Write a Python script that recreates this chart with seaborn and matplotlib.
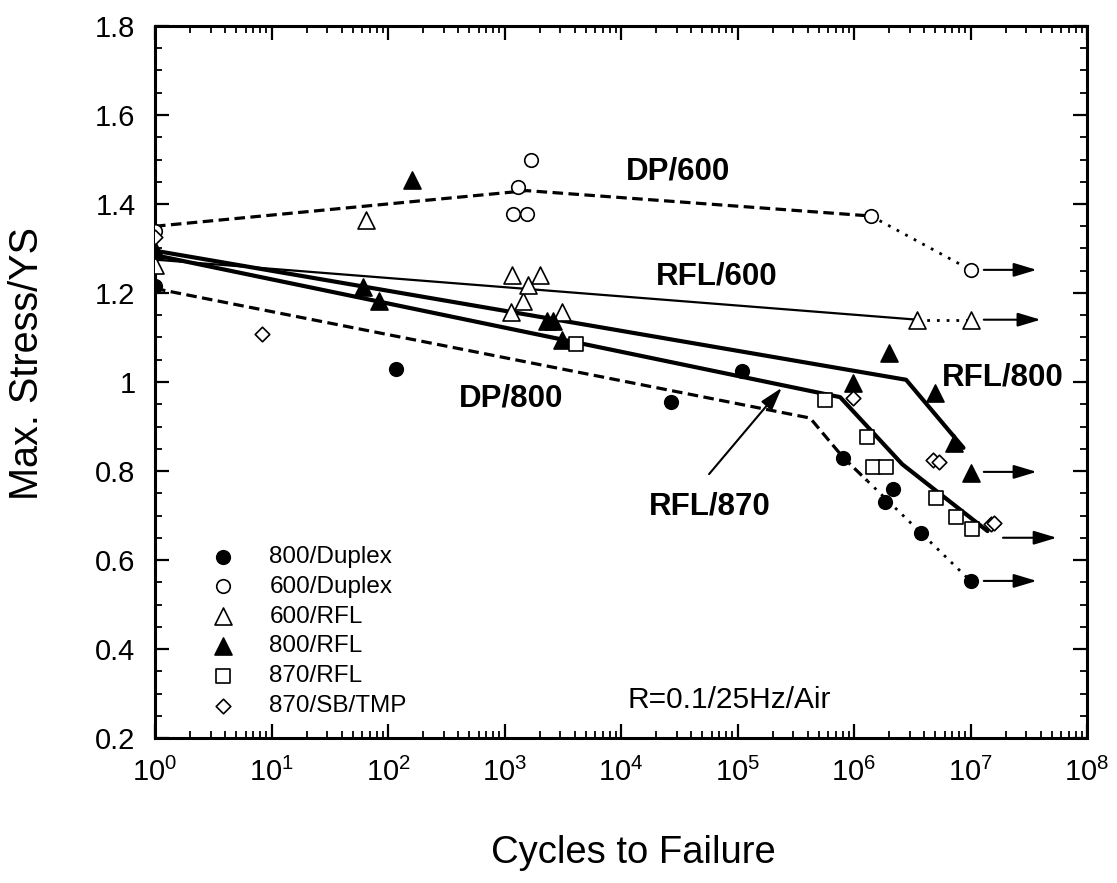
import matplotlib
matplotlib.use("Agg")
import matplotlib.pyplot as plt
import seaborn as sns
from matplotlib.ticker import LogLocator, MultipleLocator, FuncFormatter, NullFormatter

# ---------------- data ----------------
duplex800_n = [1, 117, 2.7e4, 1.1e5, 8.1e5, 1.85e6, 2.16e6, 3.76e6, 1.0e7]
duplex800_s = [1.215, 1.03, 0.955, 1.025, 0.83, 0.73, 0.76, 0.661, 0.553]
duplex600_n = [1, 1183, 1306, 1560, 1690, 1.4e6, 1.0e7]
duplex600_s = [1.34, 1.378, 1.438, 1.378, 1.50, 1.373, 1.252]
rfl600_n = [1, 65, 1140, 1150, 1440, 1600, 2000, 3100, 3.5e6, 1.0e7]
rfl600_s = [1.262, 1.364, 1.157, 1.24, 1.182, 1.218, 1.24, 1.157, 1.14, 1.14]
rfl800_n = [1, 61, 84, 161, 2300, 2600, 3100, 9.8e5, 2.0e6, 5.0e6, 7.2e6, 1.0e7]
rfl800_s = [1.297, 1.213, 1.182, 1.455, 1.137, 1.137, 1.094, 0.998, 1.065, 0.975, 0.863, 0.796]
rfl870_n = [4100, 5.6e5, 1.3e6, 1.45e6, 1.9e6, 5.1e6, 7.5e6, 1.03e7]
rfl870_s = [1.085, 0.96, 0.876, 0.809, 0.809, 0.739, 0.697, 0.67]
sbtmp870_n = [1, 8.3, 9.8e5, 4.8e6, 5.4e6, 1.5e7, 1.6e7]
sbtmp870_s = [1.325, 1.108, 0.964, 0.825, 0.82, 0.681, 0.683]

series_labels = ["800/Duplex", "600/Duplex", "600/RFL", "800/RFL", "870/RFL", "870/SB/TMP"]

# trend lines
dp600_dash_n = [1, 1560, 1.4e6]
dp600_dash_s = [1.35, 1.43, 1.373]
dp600_dot_n = [1.4e6, 1.0e7]
dp600_dot_s = [1.373, 1.252]
rfl600_line_n = [1, 3.5e6]
rfl600_line_s = [1.275, 1.14]
rfl600_dot_n = [3.5e6, 1.0e7]
rfl600_dot_s = [1.14, 1.14]
rfl800_line_n = [1, 2.8e6, 8.7e6]
rfl800_line_s = [1.295, 1.005, 0.852]
rfl870_line_n = [1, 7.6e5, 2.6e6, 1.4e7]
rfl870_line_s = [1.285, 0.966, 0.815, 0.665]
dp800_dash_n = [1, 4.2e5, 8.1e5, 1.3e6]
dp800_dash_s = [1.21, 0.919, 0.83, 0.778]
dp800_dot_n = [1.3e6, 1.0e7]
dp800_dot_s = [0.778, 0.553]

# run-out arrows
runout_y = [1.252, 1.14, 0.798, 0.65, 0.553]
runout_start = [1.3e7, 1.3e7, 1.3e7, 1.9e7, 1.3e7]
runout_end = [3.7e7, 4.0e7, 3.7e7, 5.5e7, 3.7e7]

# curve labels
curve_labels = ["DP/600", "RFL/600", "RFL/800", "DP/800", "RFL/870"]
curve_label_n = [3.1e4, 6.6e4, 1.9e7, 1140, 5.8e4]
curve_label_s = [1.472, 1.236, 1.011, 0.964, 0.721]
rfl870_arrow_tail = (5.7e4, 0.793)
rfl870_arrow_head = (2.4e5, 0.987)
condition_text = "R=0.1/25Hz/Air"
condition_pos = (8.5e4, 0.285)

x_label = "Cycles to Failure"
y_label = "Max. Stress/YS"

# ---------------- style ----------------
sns.set_theme(style="ticks")
plt.rcParams["font.family"] = ["Liberation Sans", "DejaVu Sans"]
plt.rcParams["mathtext.fontset"] = "custom"
plt.rcParams["mathtext.rm"] = "Liberation Sans"
plt.rcParams["mathtext.it"] = "Liberation Sans"
plt.rcParams["mathtext.bf"] = "Liberation Sans:bold"
plt.rcParams["text.color"] = "black"
plt.rcParams["axes.labelcolor"] = "black"
plt.rcParams["xtick.color"] = "black"
plt.rcParams["ytick.color"] = "black"

W, H = 1117, 883
fig = plt.figure(figsize=(W / 100, H / 100), dpi=100)
L, R, T, B = 155, 1087, 26, 738
ax = fig.add_axes([L / W, 1 - B / H, (R - L) / W, (B - T) / H])
ax.set_xscale("log")
ax.set_xlim(1, 1e8)
ax.set_ylim(0.2, 1.8)

# ---------------- lines ----------------
thick = 3.0
def line(n, s, lw, ls):
    sns.lineplot(x=n, y=s, ax=ax, color="black", lw=lw, linestyle=ls,
                 estimator=None, sort=False, zorder=2)

dash = (0, (3.3, 1.7))
dot = (0, (1, 2.5))
line(dp600_dash_n, dp600_dash_s, 2.3, dash)
line(dp600_dot_n, dp600_dot_s, 2.0, dot)
line(rfl600_line_n, rfl600_line_s, 1.6, "-")
line(rfl600_dot_n, rfl600_dot_s, 2.0, dot)
line(rfl800_line_n, rfl800_line_s, thick, "-")
line(rfl870_line_n, rfl870_line_s, thick, "-")
line(dp800_dash_n, dp800_dash_s, 2.3, dash)
line(dp800_dot_n, dp800_dot_s, 2.0, dot)

# ---------------- markers ----------------
def pts(n, s, marker, size, fill, label):
    sns.scatterplot(x=n, y=s, ax=ax, marker=marker, s=size, color=fill,
                    edgecolor="black", linewidth=1.2, zorder=3, label=label)

pts(duplex800_n, duplex800_s, "o", 95, "black", series_labels[0])
pts(duplex600_n, duplex600_s, "o", 95, "white", series_labels[1])
pts(rfl600_n, rfl600_s, "^", 150, "white", series_labels[2])
pts(rfl800_n, rfl800_s, "^", 150, "black", series_labels[3])
pts(rfl870_n, rfl870_s, "s", 95, "white", series_labels[4])
pts(sbtmp870_n, sbtmp870_s, "D", 55, "white", series_labels[5])

# ---------------- arrows & text ----------------
arrow_kw = dict(arrowstyle="-|>,head_length=1.0,head_width=0.3",
                color="black", lw=1.5, mutation_scale=14, shrinkA=0, shrinkB=0)
for y, x0, x1 in zip(runout_y, runout_start, runout_end):
    ax.annotate("", xy=(x1, y), xytext=(x0, y), arrowprops=arrow_kw, zorder=2)

ax.annotate("", xy=rfl870_arrow_head, xytext=rfl870_arrow_tail,
            arrowprops=arrow_kw, zorder=2)

for txt, n, s in zip(curve_labels, curve_label_n, curve_label_s):
    ax.text(n, s, txt, fontsize=22.5, fontweight="bold", ha="center", va="center")

ax.text(condition_pos[0], condition_pos[1], condition_text, fontsize=21.5,
        ha="center", va="center")

# ---------------- axes ----------------
ax.xaxis.set_major_locator(LogLocator(base=10, numticks=20))
ax.xaxis.set_minor_locator(LogLocator(base=10, subs=range(2, 10), numticks=100))
ax.xaxis.set_minor_formatter(NullFormatter())
ax.yaxis.set_major_locator(MultipleLocator(0.2))
ax.yaxis.set_minor_locator(MultipleLocator(0.05))
ax.yaxis.set_major_formatter(FuncFormatter(lambda v, p: f"{v:g}"))

for sp in ax.spines.values():
    sp.set_linewidth(2.2)
    sp.set_color("black")
ax.tick_params(which="both", direction="in", top=True, right=True, colors="black")
ax.tick_params(which="major", length=10, width=1.6, labelsize=21, pad=14)
ax.tick_params(which="minor", length=5, width=1.3)
ax.set_xlabel("")
ax.set_ylabel("")

fig.text(633 / W, 1 - 853 / H, x_label, fontsize=27.5, ha="center", va="center")
fig.text(27 / W, 1 - 363 / H, y_label, fontsize=28.5, ha="center", va="center",
         rotation=90)

ax.legend(loc="upper left", bbox_to_anchor=(200 / W, 1 - 546 / H),
          bbox_transform=fig.transFigure, frameon=False, fontsize=17.5,
          handlelength=1.9, handletextpad=0.95, labelspacing=0.32,
          borderpad=0, borderaxespad=0, scatterpoints=1, markerscale=1.0)

fig.savefig("out.png", dpi=100)
